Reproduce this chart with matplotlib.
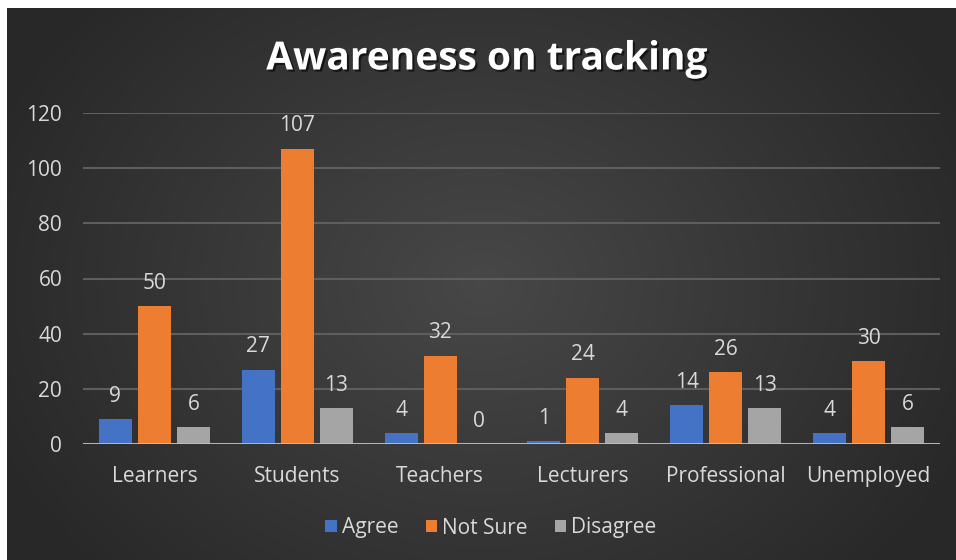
import numpy as np
import matplotlib
matplotlib.use("Agg")
import matplotlib.pyplot as plt
import matplotlib.patheffects as pe
from matplotlib.patches import Patch

categories = ["Learners", "Students", "Teachers", "Lecturers", "Professional", "Unemployed"]
agree = [9, 27, 4, 1, 14, 4]
not_sure = [50, 107, 32, 24, 26, 30]
disagree = [6, 13, 0, 4, 13, 6]
series_names = ["Agree", "Not Sure", "Disagree"]
colors = ["#4472C4", "#ED7D31", "#A5A5A5"]
yticks = [0, 20, 40, 60, 80, 100, 120]

plt.rcParams["font.family"] = ["Open Sans", "DejaVu Sans"]
text_color = "#D9D9D9"
fs = 15

fig = plt.figure(figsize=(9.56, 5.6), dpi=100)
fig.patch.set_facecolor("white")

# dark radial-gradient panel behind the chart
bg = fig.add_axes([7 / 956, 0, 949 / 956, 552 / 560], zorder=0)
h, w = 276, 475
yy, xx = np.mgrid[0:h, 0:w]
r = np.sqrt(((xx - w * 0.5) / (w * 0.55)) ** 2 + ((yy - h * 0.5) / (h * 0.75)) ** 2)
shade = 0.28 - 0.12 * np.clip(r, 0, 1)
bg.imshow(np.dstack([shade, shade, shade]), aspect="auto", extent=[0, 1, 0, 1],
          interpolation="bilinear")
bg.set_axis_off()

ax = fig.add_axes([83 / 956, 1 - 444 / 560, (940 - 83) / 956, (444 - 113) / 560], zorder=1)
ax.patch.set_alpha(0)

x = np.arange(len(categories))
width = 0.231
step = 0.273
for i, (vals, name, col) in enumerate(zip([agree, not_sure, disagree], series_names, colors)):
    pos = x + (i - 1) * step
    ax.bar(pos, vals, width=width, color=col, label=name, zorder=3)
    for xb, v in zip(pos, vals):
        ax.text(xb, v + 4.5, str(v), ha="center", va="bottom", color=text_color,
                fontsize=fs, zorder=4)

ax.set_xlim(-0.5, len(categories) - 0.5)
ax.set_ylim(0, 120)
ax.set_yticks(yticks)
ax.set_yticklabels([str(t) for t in yticks])
ax.set_xticks(x)
ax.set_xticklabels(categories)
ax.tick_params(axis="both", length=0, colors=text_color, labelsize=fs)
ax.tick_params(axis="y", pad=15)
ax.tick_params(axis="x", pad=16)
ax.grid(axis="y", color="#5E5E5E", linewidth=1.5, zorder=1)
for s in ax.spines.values():
    s.set_visible(False)
ax.axhline(0, color="#BFBFBF", linewidth=2, zorder=4)

fig.text(0.509, 1 - 59 / 560, "Awareness on tracking", ha="center", va="center",
         color="white", fontsize=28, fontweight="bold",
         path_effects=[pe.withSimplePatchShadow(offset=(1.5, -1.5), shadow_rgbFace="black", alpha=0.6)])

handles = [Patch(facecolor=c, label=n) for c, n in zip(colors, series_names)]
fig.legend(handles=handles, loc="center", bbox_to_anchor=(0.5135, 1 - 528 / 560), ncol=3,
           frameon=False, fontsize=fs, handlelength=0.55, handleheight=0.55,
           handletextpad=0.25, columnspacing=1.3, labelcolor=text_color)

fig.savefig("out.png", dpi=100, facecolor=fig.get_facecolor())
